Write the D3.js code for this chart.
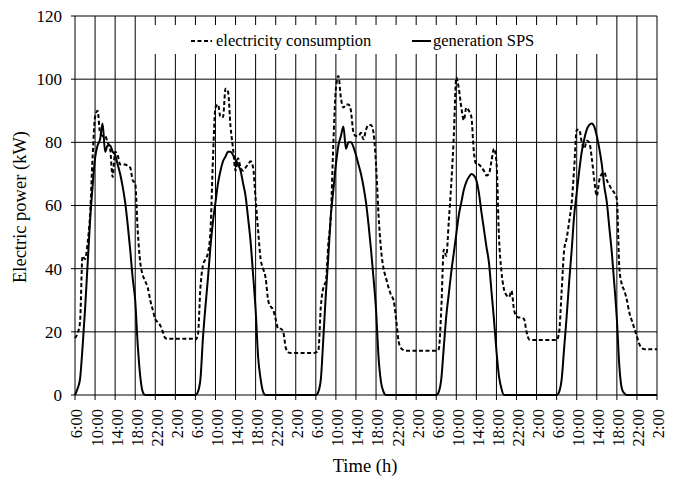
<!DOCTYPE html>
<meta charset="utf-8">
<script src="https://d3js.org/d3.v7.min.js"></script>
<style>
  body { margin: 0; background: #fff; }
</style>
<body>
<div id="chart"></div>
<script>

  // half-hourly readings, starting 6:00 on day 1 (116 h in total)
  const consumption = [
    18, 19.5, 23, 44, 43, 48, 57, 75, 88, 90, 83, 82, 82, 80, 78, 69, 77, 76, 73, 73,
    73, 72.5, 72, 68, 67, 52, 42, 38, 36, 34, 30, 27, 24, 23, 22, 20, 18, 17.8, 17.8, 17.8,
    17.8, 17.8, 17.8, 17.8, 17.8, 17.8, 17.8, 17.8,
    // day 2
    17.5, 19, 34, 41, 43, 45, 52, 75, 91, 92, 88, 88, 97, 96, 85, 78, 71, 75, 72, 71,
    72, 73, 74, 72, 62, 52, 43, 40, 37, 30, 28, 27, 24, 21, 21, 20, 15, 13.5, 13.3, 13.3,
    13.3, 13.3, 13.3, 13.3, 13.3, 13.3, 13.3, 13.3,
    // day 3
    13.5, 14, 28, 34, 36, 48, 57, 80, 97, 101, 94, 91, 92, 92, 90, 83, 82, 82, 83, 81,
    84, 85.5, 85.5, 83, 73, 57, 46, 40, 37, 34, 31.6, 30, 24, 17, 14.8, 14.2, 14, 14, 14, 14,
    14, 14, 14, 14, 14, 14, 14, 14,
    // day 4
    14, 14.5, 27, 46, 44, 55, 67, 82, 100.5, 97, 91, 87, 91, 90, 88, 77, 73, 73, 72, 71,
    69.5, 70, 74, 78, 74, 50, 39, 33.5, 31.6, 31, 33, 27, 25, 24.5, 24.5, 24, 20, 17.6, 17.4, 17.4,
    17.4, 17.4, 17.4, 17.4, 17.4, 17.4, 17.4, 17.4,
    // day 5
    17.4, 20, 33, 46, 49.6, 55, 61, 72, 84, 84, 80, 78, 80.5, 80, 75, 68, 63, 68, 70, 70.5,
    68, 66.5, 65, 64, 62, 40, 35, 33, 30, 26, 23.5, 21, 18.5, 16, 14.8, 14.5, 14.5, 14.5, 14.5, 14.5,
    14.5
  ];

  const generation = [
    0, 2, 5, 15, 27, 41, 55, 66, 75, 79, 81, 86, 77, 79, 79, 77, 76, 73, 70, 66,
    61, 54, 46, 37, 30, 16, 6, 1, 0, 0, 0, 0, 0, 0, 0, 0, 0, 0, 0, 0,
    0, 0, 0, 0, 0, 0, 0, 0,
    // day 2
    0, 1, 5, 18, 28, 37, 47, 55, 61, 67, 71, 74, 75.5, 77, 77, 76, 74.5, 73, 71, 67,
    63, 56, 48.5, 38, 27, 12, 5, 1, 0, 0, 0, 0, 0, 0, 0, 0, 0, 0, 0, 0,
    0, 0, 0, 0, 0, 0, 0, 0,
    // day 3
    0, 1, 5, 18, 32, 44, 57, 65, 73, 79, 82, 85, 78, 80, 80, 78.5, 76, 73, 70, 66,
    61, 54, 46, 37, 27, 12, 4, 1, 0, 0, 0, 0, 0, 0, 0, 0, 0, 0, 0, 0,
    0, 0, 0, 0, 0, 0, 0, 0,
    // day 4
    0, 1, 5, 15, 25, 32, 39, 45, 51, 57, 61, 65, 67.5, 69, 70, 69.5, 68, 64, 58, 52.5,
    47, 42, 33, 24, 14, 6, 2, 0, 0, 0, 0, 0, 0, 0, 0, 0, 0, 0, 0, 0,
    0, 0, 0, 0, 0, 0, 0, 0,
    // day 5
    0, 1, 5, 15, 25, 36, 46, 57, 64, 71, 77, 81, 84, 85.5, 86, 85, 82, 78, 73, 66,
    61, 53, 45, 35, 24, 9, 2, 0.5, 0, 0, 0, 0, 0, 0, 0, 0, 0, 0, 0, 0,
    0
  ];

  const xTickLabels = [
    "6:00", "10:00", "14:00", "18:00", "22:00", "2:00",
    "6:00", "10:00", "14:00", "18:00", "22:00", "2:00",
    "6:00", "10:00", "14:00", "18:00", "22:00", "2:00",
    "6:00", "10:00", "14:00", "18:00", "22:00", "2:00",
    "6:00", "10:00", "14:00", "18:00", "22:00", "2:00"
  ];
  const yTicks = [0, 20, 40, 60, 80, 100, 120];
  const seriesNames = ["electricity consumption", "generation SPS"];

  const W = 677, H = 481;
  const margin = {top: 16, right: 20, bottom: 86, left: 75};
  const serif = "'Liberation Serif', 'DejaVu Serif', 'Times New Roman', serif";

  const svg = d3.select("#chart")
    .append("svg")
      .attr("width", W)
      .attr("height", H)
      .attr("font-family", serif);

  const x = d3.scaleLinear()
    .domain([0, (xTickLabels.length - 1) * 4])
    .range([margin.left, W - margin.right]);
  const y = d3.scaleLinear()
    .domain([0, 120])
    .range([H - margin.bottom, margin.top]);

  // grid
  svg.append("g")
    .selectAll("line")
    .data(yTicks)
    .join("line")
      .attr("x1", margin.left - 4)
      .attr("x2", W - margin.right)
      .attr("y1", d => y(d))
      .attr("y2", d => y(d))
      .attr("stroke", "#000")
      .attr("stroke-width", 1);

  svg.append("g")
    .selectAll("line")
    .data(xTickLabels)
    .join("line")
      .attr("x1", (d, i) => x(i * 4))
      .attr("x2", (d, i) => x(i * 4))
      .attr("y1", y(120))
      .attr("y2", y(0) + 5)
      .attr("stroke", "#000")
      .attr("stroke-width", 1);

  // y labels
  svg.append("g")
    .selectAll("text")
    .data(yTicks)
    .join("text")
      .attr("x", margin.left - 13)
      .attr("y", d => y(d))
      .attr("dy", "0.35em")
      .attr("text-anchor", "end")
      .attr("font-family", serif)
      .style("font-size", "17px")
      .text(d => d);

  // x labels, rotated
  svg.append("g")
    .selectAll("text")
    .data(xTickLabels)
    .join("text")
      .attr("transform", (d, i) => `translate(${x(i * 4)},${y(0) + 14}) rotate(-90)`)
      .attr("dy", "0.45em")
      .attr("text-anchor", "end")
      .attr("font-family", serif)
      .style("font-size", "16.5px")
      .text(d => d);

  // axis titles
  svg.append("text")
    .attr("x", 365)
    .attr("y", 472)
    .attr("text-anchor", "middle")
    .attr("font-family", serif)
    .style("font-size", "18.5px")
    .text("Time (h)");

  svg.append("text")
    .attr("transform", "translate(26,207) rotate(-90)")
    .attr("text-anchor", "middle")
    .attr("font-family", serif)
    .style("font-size", "18.5px")
    .text("Electric power (kW)");

  // lines
  const line = d3.line()
    .x((d, i) => x(i * 0.5))
    .y(d => y(d))
    .curve(d3.curveMonotoneX);

  svg.append("path")
    .datum(consumption)
    .attr("fill", "none")
    .attr("stroke", "#000")
    .attr("stroke-width", 2)
    .attr("stroke-dasharray", "4,2.5")
    .attr("d", line);

  svg.append("path")
    .datum(generation)
    .attr("fill", "none")
    .attr("stroke", "#000")
    .attr("stroke-width", 2)
    .attr("d", line);

  // legend
  const legend = svg.append("g");
  legend.append("rect")
    .attr("x", 148)
    .attr("y", 25)
    .attr("width", 456)
    .attr("height", 29)
    .attr("fill", "#fff");

  legend.append("line")
    .attr("x1", 191).attr("x2", 212)
    .attr("y1", 41).attr("y2", 41)
    .attr("stroke", "#000")
    .attr("stroke-width", 2)
    .attr("stroke-dasharray", "4,2.5");
  legend.append("text")
    .attr("x", 216).attr("y", 46)
    .attr("font-family", serif)
    .style("font-size", "16.5px")
    .text(seriesNames[0]);

  legend.append("line")
    .attr("x1", 412).attr("x2", 431)
    .attr("y1", 41).attr("y2", 41)
    .attr("stroke", "#000")
    .attr("stroke-width", 2);
  legend.append("text")
    .attr("x", 433).attr("y", 46)
    .attr("font-family", serif)
    .style("font-size", "16.5px")
    .text(seriesNames[1]);

</script>
</body>
